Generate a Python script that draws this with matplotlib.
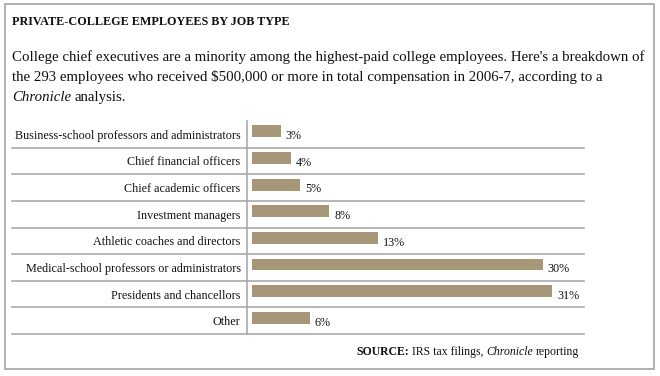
import matplotlib
matplotlib.use('Agg')
import matplotlib.pyplot as plt
from matplotlib.patches import Rectangle

# Data
categories = [
    'Business-school professors and administrators',
    'Chief financial officers',
    'Chief academic officers',
    'Investment managers',
    'Athletic coaches and directors',
    'Medical-school professors or administrators',
    'Presidents and chancellors',
    'Other',
]
shares = [3, 4, 5, 8, 13, 30, 31, 6]
value_labels = [f'{v}%' for v in shares]

title = 'PRIVATE-COLLEGE EMPLOYEES BY JOB TYPE'
intro_lines = [
    "College chief executives are a minority among the highest-paid college employees. Here's a breakdown of",
    "the 293 employees who received $500,000 or more in total compensation in 2006-7, according to a",
]

BAR_COLOR = '#a69779'
LINE_COLOR = '#a3a3a3'
W, H = 660, 376

plt.rcParams['font.family'] = ['Liberation Serif', 'DejaVu Serif']
fig = plt.figure(figsize=(W / 100, H / 100), dpi=100)
renderer = fig.canvas.get_renderer()


def fx(x):
    return x / W


def fy(y):
    return 1 - y / H


def text_runs(x, y, parts, size, align='left'):
    # draw pieces of differently styled text next to each other (pixel coords)
    gap = 0.24 * size * 100 / 72
    objs = [fig.text(0, fy(y), s, fontsize=size, va='baseline', color='#111111', **kw)
            for s, kw in parts]
    widths = [t.get_window_extent(renderer).width for t in objs]
    total = sum(widths) + gap * (len(objs) - 1)
    cur = x if align == 'left' else x - total
    for t, w in zip(objs, widths):
        t.set_x(fx(cur))
        cur += w + gap


# outer frame
fig.patches.append(Rectangle((fx(4.5), fy(369)), fx(649), 365 / H, transform=fig.transFigure,
                             fill=False, edgecolor=LINE_COLOR, lw=1.2))

fig.text(fx(12.5), fy(25), title, fontsize=8.7, fontweight='bold', va='baseline', color='#111111')
for i, line in enumerate(intro_lines):
    fig.text(fx(12), fy(61 + 20 * i), line, fontsize=10.7, va='baseline', color='#111111')
text_runs(12, 101, [('Chronicle', {'style': 'italic'}), ('analysis.', {})], 10.7)

# bar area
ax = fig.add_axes([fx(246.7), fy(334), 337.3 / W, 213 / H])
n = len(categories)
rows = [i + 0.5 for i in range(n)]
ax.barh([r - 0.11 for r in rows], shares, height=0.45, color=BAR_COLOR, left=0)
ax.set_xlim(-0.52, 34.25)
ax.set_ylim(n, 0)

for r, v, lab in zip(rows, shares, value_labels):
    ax.annotate(lab, (v, r + 0.07), xytext=(5, 0), textcoords='offset pixels',
                va='center', ha='left', fontsize=8.7, color='#111111')

for k in range(1, n + 1):
    ax.axhline(k, xmin=-0.696, xmax=1, color=LINE_COLOR, lw=1.1, clip_on=False)

ax.set_yticks(rows)
ax.set_yticklabels(categories, fontsize=8.7, color='#111111')
ax.tick_params(axis='y', length=0, pad=4.3)
ax.set_xticks([])
for side in ['top', 'right', 'bottom']:
    ax.spines[side].set_visible(False)
ax.spines['left'].set_color(LINE_COLOR)
ax.spines['left'].set_linewidth(1.1)

text_runs(579, 355, [('SOURCE:', {'fontweight': 'bold'}), ('IRS tax filings,', {}),
                     ('Chronicle', {'style': 'italic'}), ('reporting', {})], 8.5, align='right')

fig.savefig('out.png', dpi=100, facecolor='white')
